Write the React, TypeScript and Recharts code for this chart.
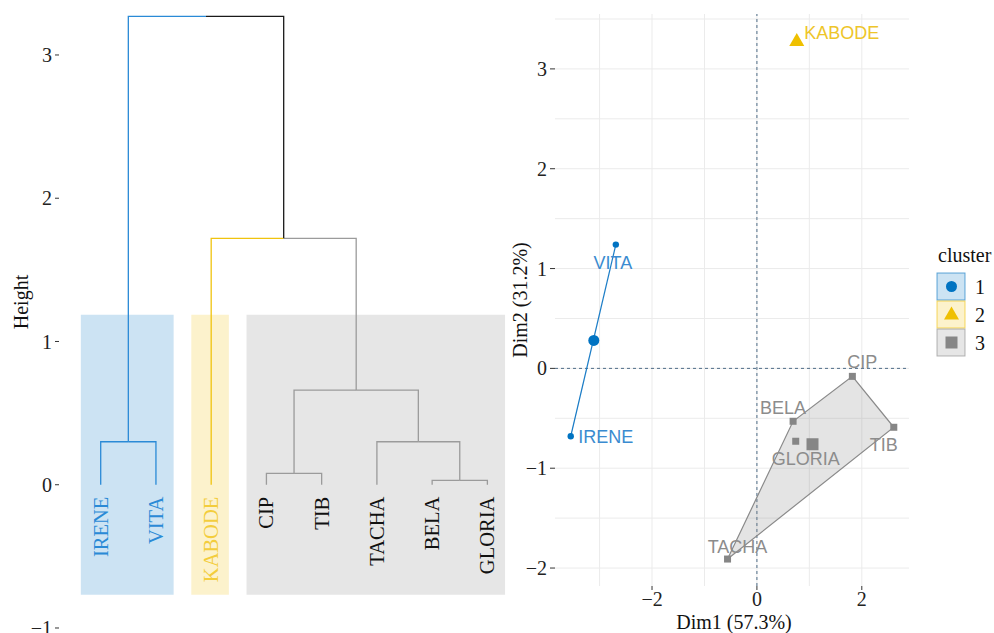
import React from 'react';
import {
  ComposedChart,
  ScatterChart,
  Line,
  Scatter,
  XAxis,
  YAxis,
  CartesianGrid,
  ReferenceArea,
  ReferenceLine,
  Legend,
} from 'recharts';

// dendrogram, hclust style merges: negative = leaf number, positive = earlier merge
const leaves = ['IRENE', 'VITA', 'KABODE', 'CIP', 'TIB', 'TACHA', 'BELA', 'GLORIA'];
const leafCluster = [1, 1, 2, 3, 3, 3, 3, 3];
const mergeA = [-7, -4, -1, -6, 2, -3, 3];
const mergeB = [-8, -5, -2, 1, 4, 5, 6];
const mergeHeight = [0.03, 0.08, 0.3, 0.3, 0.66, 1.72, 3.27];
const heightTicks = [-1, 0, 1, 2, 3];

// cluster plot
const indNames = ['IRENE', 'VITA', 'KABODE', 'CIP', 'TIB', 'TACHA', 'BELA', 'GLORIA'];
const indCluster = [1, 1, 2, 3, 3, 3, 3, 3];
const dim1 = [-3.55, -2.69, 0.76, 1.82, 2.61, -0.56, 0.69, 0.74];
const dim2 = [-0.68, 1.24, 3.28, -0.08, -0.59, -1.91, -0.53, -0.73];
const centerDim1 = [-3.11, 0.76, 1.06];
const centerDim2 = [0.28, 3.28, -0.76];
const hullOrder = [['IRENE', 'VITA'], [], ['TACHA', 'BELA', 'CIP', 'TIB']];
const clusterNames = ['1', '2', '3'];
const dim1Ticks = [-2, 0, 2];
const dim2Ticks = [-2, -1, 0, 1, 2, 3];

const serif = '"Liberation Serif", "Times New Roman", serif';
const sans = '"Liberation Sans", Arial, sans-serif';

const dendColors = ['#1a1a1a', '#2a8ad6', '#f0c30f', '#9b9b9b'];
const leafTextColors = ['#111', '#2a8ad6', '#f3cd3c', '#111'];
const rectFill = ['', '#cce3f3', '#fcf2cc', '#e6e6e6'];
const ptColors = ['', '#0073c2', '#efc000', '#868686'];
const labelColors = ['', '#3a8bd0', '#eec52a', '#8c8c8c'];

// label nudges in px (ggrepel-ish placement)
const labelNudge: Record<string, [number, number]> = {
  IRENE: [35, 1],
  VITA: [-3, 18],
  KABODE: [45, -8],
  CIP: [10, -14],
  TIB: [-10, 18],
  TACHA: [10, -12],
  BELA: [-10, -13],
  GLORIA: [10, 18],
};

const minus = (v: number) => String(v).replace('-', '\u2212');

type Node = { x: number; h: number; c: number };

function buildEdges() {
  const merged: Node[] = [];
  const edges: { c: number; pts: { x: number; y: number }[] }[] = [];
  const nodeOf = (ref: number): Node =>
    ref < 0 ? { x: -ref, h: 0, c: leafCluster[-ref - 1] } : merged[ref - 1];
  mergeA.forEach((a, i) => {
    const na = nodeOf(a);
    const nb = nodeOf(mergeB[i]);
    const h = mergeHeight[i];
    const node = { x: (na.x + nb.x) / 2, h, c: na.c === nb.c ? na.c : 0 };
    [na, nb].forEach((ch) =>
      edges.push({
        c: ch.c,
        pts: [
          { x: node.x, y: h },
          { x: ch.x, y: h },
          { x: ch.x, y: ch.h },
        ],
      })
    );
    merged.push(node);
  });
  return edges;
}

const leafLabel = (p: any) => {
  const { cx, cy, payload } = p;
  const y = cy + 12;
  return (
    <text
      x={cx}
      y={y}
      transform={`rotate(-90 ${cx} ${y})`}
      textAnchor="end"
      dominantBaseline="central"
      fontFamily={serif}
      fontSize={20.5}
      fill={leafTextColors[payload.c]}
    >
      {payload.name}
    </text>
  );
};

function Dendrogram() {
  const edges = buildEdges();
  const leafData = leaves.map((name, i) => ({ x: i + 1, y: 0, name, c: leafCluster[i] }));
  const rects = [1, 2, 3].map((c) => {
    const idx = leafCluster.map((v, i) => (v === c ? i + 1 : -1)).filter((v) => v > 0);
    return { c, x1: idx[0] - 0.36, x2: idx[idx.length - 1] + 0.32 };
  });

  return (
    <ComposedChart width={520} height={633} margin={{ top: 10, right: 5, bottom: 0, left: 0 }}>
      <XAxis type="number" dataKey="x" domain={[0.245, 8.5]} allowDataOverflow hide />
      <YAxis
        type="number"
        dataKey="y"
        domain={[-1.035, 3.314]}
        allowDataOverflow
        ticks={heightTicks}
        interval={0}
        width={59}
        axisLine={false}
        tickSize={4}
        tickMargin={3}
        tickLine={{ stroke: '#333' }}
        tick={{ fontFamily: serif, fontSize: 20, fill: '#222' }}
        tickFormatter={minus}
        label={(props: any) => (
          <text
            x={21}
            y={302}
            transform="rotate(-90 21 302)"
            textAnchor="middle"
            dominantBaseline="central"
            fontFamily={serif}
            fontSize={20}
            fill="#111"
          >
            Height
          </text>
        )}
      />
      {rects.map((r) => (
        <ReferenceArea
          key={`rect-${r.c}`}
          x1={r.x1}
          x2={r.x2}
          y1={-0.768}
          y2={1.187}
          fill={rectFill[r.c]}
          fillOpacity={1}
          stroke="none"
          ifOverflow="visible"
        />
      ))}
      {edges.map((e, i) => (
        <Line
          key={`edge-${i}`}
          data={e.pts}
          dataKey="y"
          type="linear"
          stroke={dendColors[e.c]}
          strokeWidth={1.3}
          dot={false}
          activeDot={false}
          isAnimationActive={false}
        />
      ))}
      <Scatter data={leafData} dataKey="y" shape={leafLabel} isAnimationActive={false} />
    </ComposedChart>
  );
}

const drawMark = (cluster: number, big: boolean) => (p: any) => {
  const { cx, cy } = p;
  const col = ptColors[cluster];
  if (cluster === 1) return <circle cx={cx} cy={cy} r={big ? 5.5 : 3.2} fill={col} />;
  if (cluster === 2) {
    const w = big ? 7.5 : 5;
    return (
      <path
        d={`M${cx},${cy - (big ? 8 : 5)}L${cx + w},${cy + (big ? 5 : 3)}L${cx - w},${cy + (big ? 5 : 3)}Z`}
        fill={col}
      />
    );
  }
  const s = big ? 6 : 3.5;
  return <rect x={cx - s} y={cy - s} width={2 * s} height={2 * s} fill={col} />;
};

const pointLabel = (p: any) => {
  const { cx, cy, payload } = p;
  const [dx, dy] = labelNudge[payload.name] || [0, 0];
  return (
    <text
      x={cx + dx}
      y={cy + dy}
      textAnchor="middle"
      dominantBaseline="central"
      fontFamily={sans}
      fontSize={18}
      fill={labelColors[payload.c]}
    >
      {payload.name}
    </text>
  );
};

const legendContent = () => {
  const boxFill = ['', '#cce3f3', '#fcf2cc', '#e6e6e6'];
  return (
    <svg width={64} height={120}>
      <text x={8} y={22} fontFamily={serif} fontSize={20} fill="#111">
        cluster
      </text>
      {clusterNames.map((name, k) => {
        const top = 33 + k * 28;
        const cx = 21.5;
        const cy = top + 13.5;
        return (
          <g key={name}>
            <rect x={7} y={top} width={28} height={27} fill={boxFill[k + 1]} stroke={ptColors[k + 1]} strokeOpacity={0.6} />
            {drawMark(k + 1, true)({ cx, cy })}
            <text x={45} y={cy} dominantBaseline="central" fontFamily={serif} fontSize={20} fill="#111">
              {name}
            </text>
          </g>
        );
      })}
    </svg>
  );
};

function ClusterPlot() {
  const pts = indNames.map((name, i) => ({ name, x: dim1[i], y: dim2[i], c: indCluster[i] }));
  const byName = (n: string) => pts.find((p) => p.name === n)!;
  const hulls = hullOrder.map((list) => {
    const h = list.map(byName);
    return h.length > 2 ? [...h, h[0]] : h;
  });
  const centers = clusterNames.map((_, k) => ({ x: centerDim1[k], y: centerDim2[k], c: k + 1 }));

  return (
    <ScatterChart width={494} height={633} margin={{ top: 14, right: 85, bottom: 0, left: 0 }}>
      <CartesianGrid
        stroke="#ebebeb"
        verticalValues={[-3, -2, -1, 0, 1, 2]}
        horizontalValues={[-2, -1.5, -1, -0.5, 0, 0.5, 1, 1.5, 2, 2.5, 3, 3.5]}
      />
      <XAxis
        type="number"
        dataKey="x"
        domain={[-3.85, 2.9]}
        allowDataOverflow
        ticks={dim1Ticks}
        interval={0}
        height={47}
        axisLine={false}
        tickSize={4}
        tickMargin={2}
        tickLine={{ stroke: '#333' }}
        tick={{ fontFamily: serif, fontSize: 20, fill: '#222' }}
        tickFormatter={minus}
        label={(props: any) => {
          const vb = props.viewBox || { x: 55, y: 586, width: 354 };
          return (
            <text x={vb.x + vb.width / 2 + 2} y={vb.y + 43} textAnchor="middle" fontFamily={serif} fontSize={20} fill="#111">
              Dim1 (57.3%)
            </text>
          );
        }}
      />
      <YAxis
        type="number"
        dataKey="y"
        domain={[-2.18, 3.55]}
        allowDataOverflow
        ticks={dim2Ticks}
        interval={0}
        width={55}
        axisLine={false}
        tickSize={5}
        tickMargin={3}
        tickLine={{ stroke: '#333' }}
        tick={{ fontFamily: serif, fontSize: 20, fill: '#222' }}
        tickFormatter={minus}
        label={(props: any) => (
          <text
            x={20}
            y={300}
            transform="rotate(-90 20 300)"
            textAnchor="middle"
            dominantBaseline="central"
            fontFamily={serif}
            fontSize={20}
            fill="#111"
          >
            Dim2 (31.2%)
          </text>
        )}
      />
      <ReferenceLine x={0} stroke="#4f6d88" strokeDasharray="3 3" />
      <ReferenceLine y={0} stroke="#4f6d88" strokeDasharray="3 3" />
      {hulls.map((h, k) =>
        h.length > 1 ? (
          <Scatter
            key={`hull-${k}`}
            data={h}
            dataKey="y"
            shape={() => <g />}
            line={{
              stroke: k === 0 ? '#1a7cc6' : '#8a8a8a',
              strokeWidth: 1.2,
              fill: k === 0 ? 'none' : ptColors[k + 1],
              fillOpacity: 0.22,
            }}
            lineType="joint"
            legendType="none"
            isAnimationActive={false}
          />
        ) : null
      )}
      {[1, 2, 3].map((c) => (
        <Scatter
          key={`pts-${c}`}
          data={pts.filter((p) => p.c === c)}
          dataKey="y"
          shape={drawMark(c, false)}
          isAnimationActive={false}
        />
      ))}
      {centers.map((ctr) => (
        <Scatter
          key={`ctr-${ctr.c}`}
          data={[ctr]}
          dataKey="y"
          shape={drawMark(ctr.c, true)}
          isAnimationActive={false}
        />
      ))}
      <Scatter data={pts} dataKey="y" shape={pointLabel} isAnimationActive={false} />
      <Legend
        layout="horizontal"
        verticalAlign="middle"
        align="center"
        content={legendContent}
        wrapperStyle={{ left: 430, top: 240, width: 64, height: 120 }}
      />
    </ScatterChart>
  );
}

export default function App() {
  return (
    <div style={{ position: 'absolute', left: 0, top: 0, width: 994, height: 633, background: '#fff' }}>
      <div style={{ position: 'absolute', left: 0, top: 0 }}>
        <Dendrogram />
      </div>
      <div style={{ position: 'absolute', left: 500, top: 0 }}>
        <ClusterPlot />
      </div>
    </div>
  );
}
